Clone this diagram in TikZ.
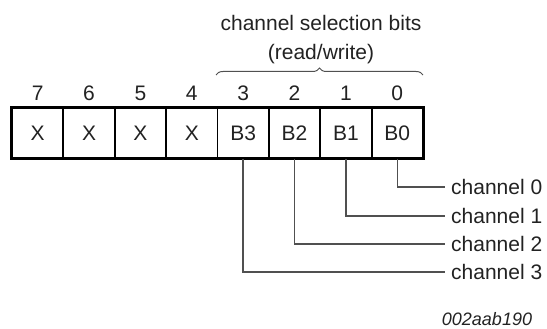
\documentclass[tikz,border=0pt]{standalone}
\usepackage{fontspec}
\setmainfont{Liberation Sans}
\usetikzlibrary{decorations.pathreplacing}
\definecolor{ink}{HTML}{222222}
\definecolor{wire}{HTML}{505050}
\begin{document}
\begin{tikzpicture}[x=1pt,y=-1pt,
  txt/.style={text=ink,font=\fontsize{21}{25}\selectfont,inner sep=0pt},
  cell/.style={draw=black,line width=1.8pt,minimum width=51.375pt,minimum height=50pt,
               inner sep=0pt,text=ink,font=\fontsize{21}{25}\selectfont},
  wireline/.style={draw=wire,line width=1.4pt},
  chlabel/.style={txt,anchor=west,inner xsep=6pt}]
\useasboundingbox (0,0) rectangle (547,329);

% register cells, bit 7 on the left
\foreach \k/\b/\t in {0/7/X,1/6/X,2/5/X,3/4/X,4/3/B3,5/2/B2,6/1/B1,7/0/B0}{
  \node[cell] (c\b) at ({12+51.375*(\k+0.5)},133) {\t};
  \node[txt] (n\b) at ({12+51.375*(\k+0.5)},93.5) {\b};
}
% heavier outer frame
\draw[black,line width=2.6pt] (c7.north west) rectangle (c0.south east);

% brace over the selection bits
\coordinate (bl) at (216,75);
\coordinate (br) at (423,75);
\draw[wire,line width=1pt,decorate,decoration={brace,amplitude=7pt}] (bl) -- (br);
\node[txt,align=center,font=\fontsize{21}{29}\selectfont] (title) at (321,40)
  {channel selection bits\\(read/write)};

% channel outputs
\node[chlabel] (ch0) at (445,187) {channel 0};
\node[chlabel] (ch1) at (445,216) {channel 1};
\node[chlabel] (ch2) at (445,244) {channel 2};
\node[chlabel] (ch3) at (445,272) {channel 3};
\draw[wireline] (c0.south) |- (ch0.west);
\draw[wireline] (c1.south) |- (ch1.west);
\draw[wireline] (c2.south) |- (ch2.west);
\draw[wireline] (c3.south) |- (ch3.west);

\node[txt,font=\fontsize{18}{22}\selectfont\itshape] (ref) at (487,319) {002aab190};
\end{tikzpicture}
\end{document}
